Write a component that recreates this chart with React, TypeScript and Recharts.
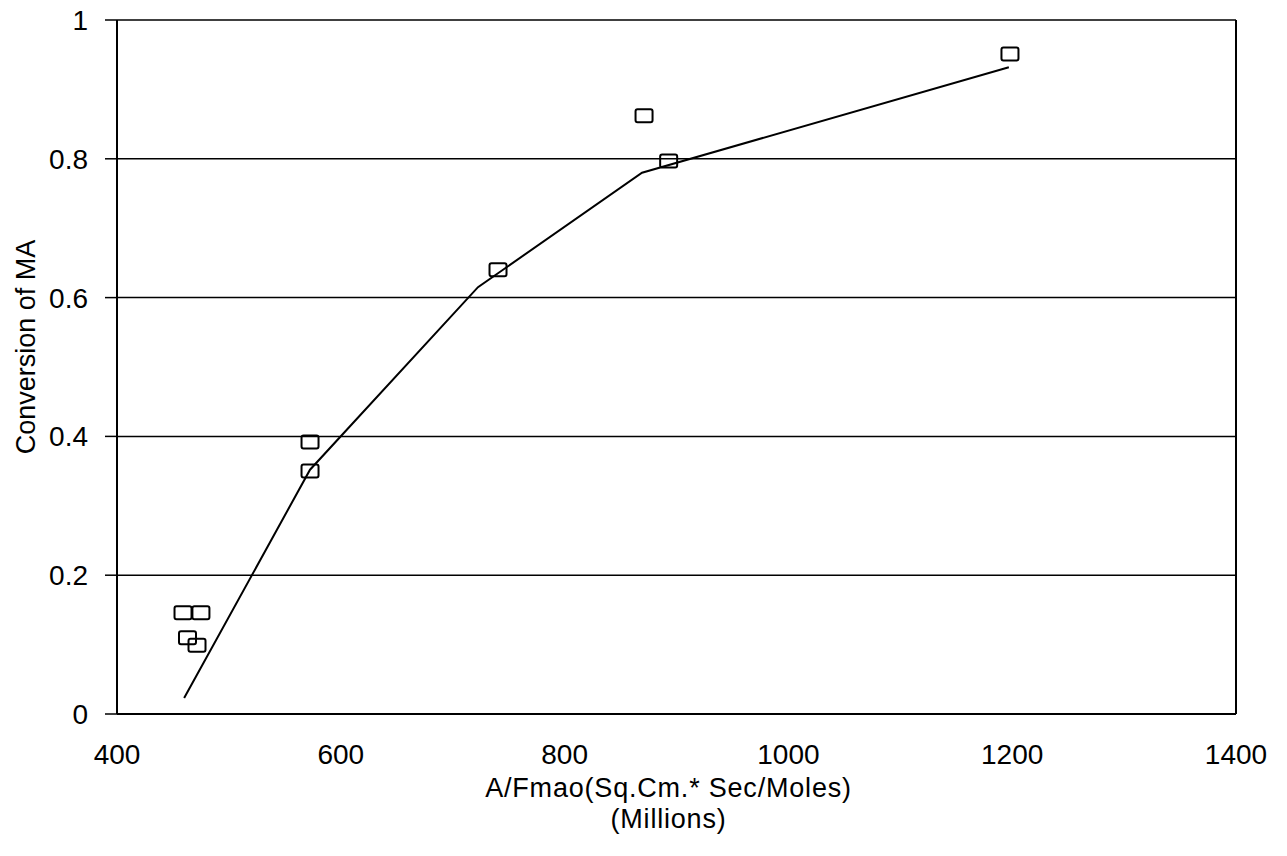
import React from "react";
import {
  ScatterChart,
  Scatter,
  CartesianGrid,
  XAxis,
  YAxis,
  Label,
  ReferenceLine,
} from "recharts";

// measured conversion points
const measuredX = [459, 475, 463, 471.5, 572.5, 572.5, 740.5, 871, 893, 1198];
const measuredY = [0.146, 0.146, 0.11, 0.099, 0.392, 0.35, 0.64, 0.862, 0.797, 0.951];

// model curve vertices
const modelX = [460, 572.5, 722.6, 869.2, 1197];
const modelY = [0.023, 0.352, 0.615, 0.78, 0.932];

const xTicks = [400, 600, 800, 1000, 1200, 1400];
const yTicks = [0, 0.2, 0.4, 0.6, 0.8, 1];

const measured = measuredX.map((x, i) => ({ x, y: measuredY[i] }));
const model = modelX.map((x, i) => ({ x, y: modelY[i] }));

const FONT = "'Liberation Sans', Arial, sans-serif";

const SquareMarker = (props: any) => {
  const { cx, cy } = props;
  if (cx == null || cy == null) return null;
  return (
    <rect
      x={cx - 8.5}
      y={cy - 6.5}
      width={17}
      height={13}
      rx={2}
      fill="none"
      stroke="#000"
      strokeWidth={2}
    />
  );
};

const NoMarker = () => null;

export default function App() {
  return (
    <div style={{ position: "absolute", left: 0, top: 0, background: "#fff" }}>
      <ScatterChart
        width={1287}
        height={856}
        margin={{ top: 20, right: 51, bottom: 0, left: 0 }}
        style={{ fontFamily: FONT }}
      >
        <CartesianGrid horizontal vertical={false} stroke="#000" strokeWidth={1.5} />
        <XAxis
          type="number"
          dataKey="x"
          domain={[400, 1400]}
          ticks={xTicks}
          tickLine={false}
          axisLine={{ stroke: "#000", strokeWidth: 2 }}
          tick={{ fill: "#000", fontSize: 28, fontFamily: FONT }}
          tickMargin={24}
          height={142}
          interval={0}
        >
          <Label
            content={(p: any) => {
              const vb = p.viewBox;
              const cx = vb.x + vb.width / 2 - 8;
              return (
                <text
                  x={cx}
                  y={vb.y}
                  textAnchor="middle"
                  fontSize={27}
                  letterSpacing={0.8}
                  fontFamily={FONT}
                  fill="#000"
                >
                  <tspan x={cx} dy={83}>
                    A/Fmao(Sq.Cm.* Sec/Moles)
                  </tspan>
                  <tspan x={cx} dy={31}>
                    (Millions)
                  </tspan>
                </text>
              );
            }}
          />
        </XAxis>
        <YAxis
          type="number"
          dataKey="y"
          domain={[0, 1]}
          ticks={yTicks}
          width={117}
          tickSize={12}
          tickMargin={17}
          tickLine={{ stroke: "#000", strokeWidth: 1.5 }}
          axisLine={{ stroke: "#000", strokeWidth: 2 }}
          tick={{ fill: "#000", fontSize: 28, fontFamily: FONT }}
          interval={0}
        >
          <Label
            value="Conversion of MA"
            angle={-90}
            position="insideLeft"
            offset={25}
            dy={-20}
            style={{ textAnchor: "middle", fontSize: 27, fill: "#000", fontFamily: FONT }}
          />
        </YAxis>
        <ReferenceLine x={1400} stroke="#000" strokeWidth={2} />
        <Scatter
          data={model}
          line={{ stroke: "#000", strokeWidth: 2 }}
          lineType="joint"
          shape={NoMarker}
          isAnimationActive={false}
        />
        <Scatter data={measured} shape={SquareMarker} isAnimationActive={false} />
      </ScatterChart>
    </div>
  );
}
